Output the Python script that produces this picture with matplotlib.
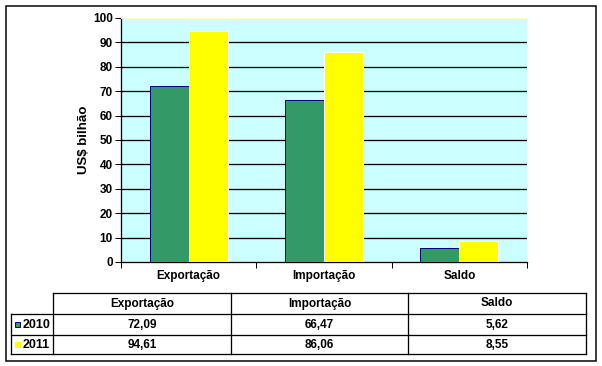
import numpy as np
import matplotlib.pyplot as plt
from matplotlib.patches import Rectangle

categorias = ["Exportação", "Importação", "Saldo"]
anos = ["2010", "2011"]
v2010 = [72.09, 66.47, 5.62]
v2011 = [94.61, 86.06, 8.55]
yticks = list(range(0, 101, 10))

verde = "#339966"
amarelo = "#FFFF00"
W, H = 602, 366
px = 0.72  # 1 pixel in points at dpi 100

plt.rcParams['font.family'] = ['Liberation Sans', 'DejaVu Sans']
plt.rcParams['font.weight'] = 'bold'
fs = 8.5

fig = plt.figure(figsize=(W / 100, H / 100), dpi=100)

# overlay in pixel coords for frame and table
ov = fig.add_axes([0, 0, 1, 1])
ov.set_xlim(0, W)
ov.set_ylim(H, 0)
ov.axis("off")

# chart area
l, r, t, b = 121, 527, 18, 262
ax = fig.add_axes([l / W, (H - b) / H, (r - l) / W, (b - t) / H])
ax.set_facecolor("#CCFFFF")
x = np.arange(len(categorias))
bw = 0.288
ax.bar(x - bw / 2, v2010, bw, color=verde, edgecolor="#000080", linewidth=px, zorder=3)
ax.bar(x + bw / 2, v2011, bw, color=amarelo, edgecolor="white", linewidth=px, zorder=3)
ax.set_xlim(-0.5, len(categorias) - 0.5)
ax.set_ylim(0, 100)
ax.set_yticks(yticks)
ax.set_yticklabels([str(v) for v in yticks], fontsize=fs, fontweight="bold")
ax.set_xticks(np.arange(-0.5, len(categorias), 1.0))
ax.set_xticklabels([])
ax.tick_params(axis="both", direction="out", length=4, width=px, color="black", pad=2)
for yv in yticks[1:-1]:
    ax.axhline(yv, color="black", linewidth=px * 1.3, zorder=1)
for s in ["top", "right"]:
    ax.spines[s].set_color("#FFFFCC")
    ax.spines[s].set_linewidth(px)
for s in ["left", "bottom"]:
    ax.spines[s].set_color("black")
    ax.spines[s].set_linewidth(px * 1.3)
ax.set_ylabel("US$ bilhão", fontsize=fs + 1, fontweight="bold", labelpad=2)

cw = (r - l) / len(categorias)
for i, c in enumerate(categorias):
    ov.text(l + cw * (i + 0.5), 276, c, ha="center", va="center", fontsize=fs, fontweight="bold")

# outer frame
ov.add_patch(Rectangle((5.5, 5.5), 590, 355, fill=False, edgecolor="black", linewidth=px * 1.5))

# table
cols = [53, 231, 408, 586]
rows = [293, 314, 335, 354]
lw = px * 1.3
ov.plot([cols[0], cols[-1]], [rows[0], rows[0]], color="black", lw=lw)
for yy in rows[1:]:
    ov.plot([11, cols[-1]], [yy, yy], color="black", lw=lw)
ov.plot([11, 11], [rows[1], rows[-1]], color="black", lw=lw)
for xx in cols:
    ov.plot([xx, xx], [rows[0], rows[-1]], color="black", lw=lw)

for j, c in enumerate(categorias):
    xc = (cols[j] + cols[j + 1]) / 2
    ov.text(xc, (rows[0] + rows[1]) / 2, c, ha="center", va="center", fontsize=fs, fontweight="bold")
    for k, vals in enumerate([v2010, v2011]):
        ov.text(xc, (rows[k + 1] + rows[k + 2]) / 2, f"{vals[j]:.2f}".replace(".", ","),
                ha="center", va="center", fontsize=fs, fontweight="bold")

for k, (ano, cor, ec) in enumerate(zip(anos, [verde, amarelo], ["#000080", amarelo])):
    yc = (rows[k + 1] + rows[k + 2]) / 2
    ov.add_patch(Rectangle((14.5, yc - 3), 5.5, 5.5, facecolor=cor, edgecolor=ec, linewidth=px))
    ov.text(23, yc, ano, ha="left", va="center", fontsize=fs + 0.5, fontweight="bold")

fig.savefig("out.png", dpi=100)
